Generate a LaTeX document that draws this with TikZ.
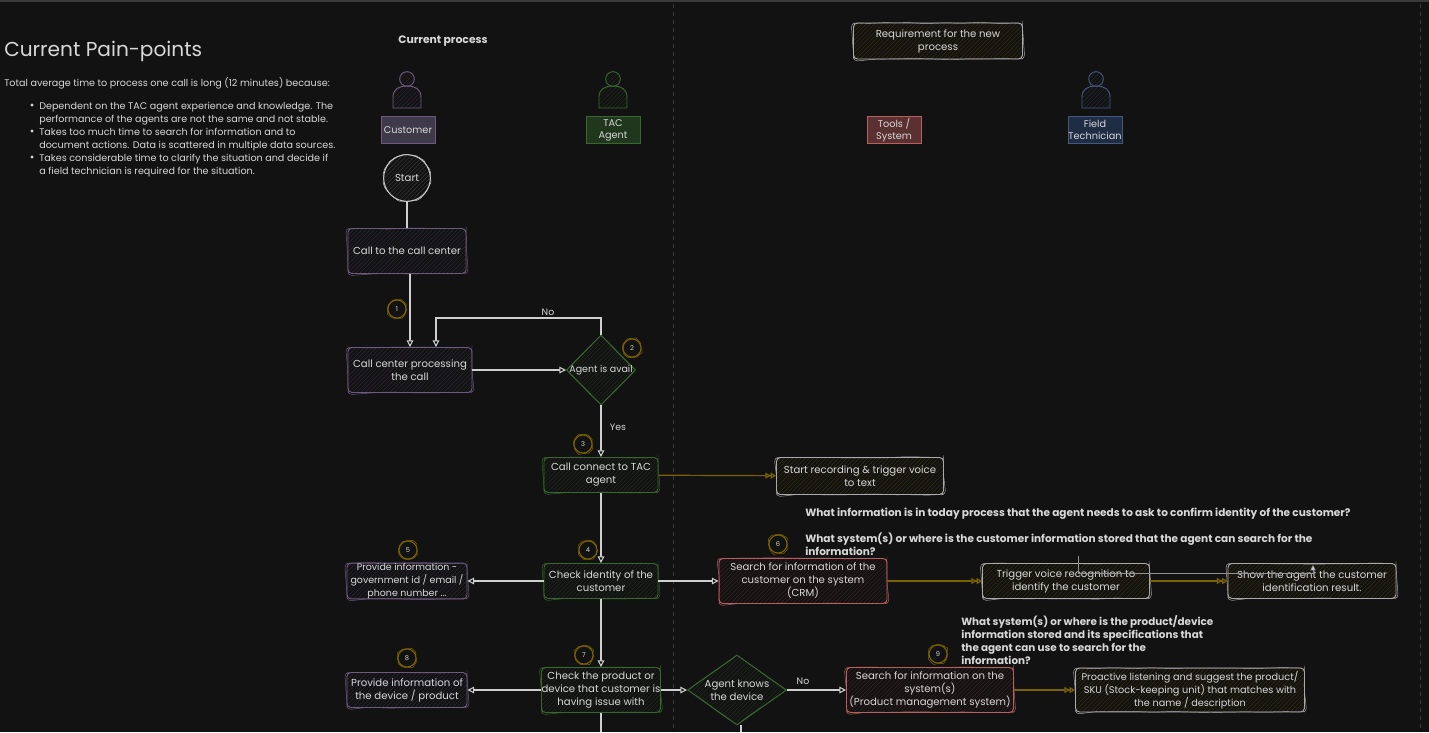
\documentclass[tikz,border=0pt]{standalone}
\usepackage{fontspec}
\setmainfont{Poppins}
\usetikzlibrary{arrows.meta,patterns.meta,decorations.pathmorphing,shapes.geometric}
\definecolor{canvas}{HTML}{121212}
\definecolor{ink}{HTML}{D8D8D8}
\definecolor{wire}{HTML}{CFCFCF}
\definecolor{custline}{HTML}{6E5A80}
\definecolor{custhatch}{HTML}{2E2936}
\definecolor{custhead}{HTML}{3F3A4A}
\definecolor{agentline}{HTML}{3A6630}
\definecolor{agenthatch}{HTML}{1F2E1C}
\definecolor{agenthead}{HTML}{20361D}
\definecolor{toolline}{HTML}{B8605F}
\definecolor{toolhatch}{HTML}{3C2222}
\definecolor{toolhead}{HTML}{5A3030}
\definecolor{techline}{HTML}{46587E}
\definecolor{techhatch}{HTML}{232A38}
\definecolor{techhead}{HTML}{1F2D44}
\definecolor{newhatch}{HTML}{35300A}
\definecolor{newline}{HTML}{ABABAB}
\definecolor{gold}{HTML}{7A6200}
\definecolor{graydash}{HTML}{3A3A3A}
\tikzset{
  boxsize/.style 2 args={minimum width=#1*0.75pt, minimum height=#2*0.75pt},
  sketch/.style 2 args={draw=#1, line width=.7pt, text=ink, align=center, inner sep=0pt,
    font=\fontsize{7.6}{9.75}\selectfont, decoration={segment length=14pt},
    preaction={pattern={Lines[angle=45,distance=2.2pt,line width=.35pt]}, pattern color=#2},
    postaction={draw=#1, line width=.35pt, decorate, decoration={random steps,amplitude=.5pt}}},
  flowbox/.style n args={4}{sketch={#3}{#4}, rectangle, rounded corners=3pt, boxsize={#1}{#2}},
  custbox/.style 2 args={flowbox={#1}{#2}{custline}{custhatch}},
  agentbox/.style 2 args={flowbox={#1}{#2}{agentline}{agenthatch}},
  toolbox/.style 2 args={flowbox={#1}{#2}{toolline}{toolhatch}},
  newbox/.style 2 args={flowbox={#1}{#2}{newline}{newhatch}},
  decision/.style n args={3}{sketch={agentline}{agenthatch}, diamond, inner sep=-5pt, boxsize={#1}{#2}, aspect=#3},
  headbox/.style 2 args={draw=#1, fill=#2, line width=.7pt, text=ink, align=center, inner sep=0pt,
    font=\fontsize{7.3}{9}\selectfont, boxsize={54}{27}},
  badge/.style={circle, draw=gold, line width=.8pt, minimum size=13.5pt, inner sep=0pt, text=ink,
    font=\fontsize{5}{6}\selectfont, decoration={segment length=4pt},
    postaction={draw=gold, line width=.4pt, decorate, decoration={random steps,amplitude=.6pt}}},
  flow/.style={draw=wire, line width=.8pt, -{Triangle[open,length=5pt,width=5pt,fill=canvas]}},
  plainflow/.style={draw=wire, line width=.8pt},
  newflow/.style={draw=gold, line width=.9pt,
    -{Triangle[open,length=4pt,width=4.5pt,fill=canvas] Triangle[open,length=4pt,width=4.5pt,fill=canvas]}},
  lbl/.style={text=ink, font=\fontsize{7}{9}\selectfont, inner sep=0pt},
  note/.style={text=ink, font=\bfseries\fontsize{7.9}{9.75}\selectfont, align=left, anchor=west, inner sep=0pt},
  painline/.style={text=ink, font=\fontsize{7.2}{9.75}\selectfont, align=left, anchor=north west, inner sep=0pt},
  tightfont/.style={font=\fontsize{7.1}{9.75}\selectfont},
}
\begin{document}
\begin{tikzpicture}[x=0.75pt, y=-0.75pt]
% Canvas
\fill[canvas] (0,0) rectangle (1429,732);
\fill[graydash] (0,0) rectangle (1429,2);
\foreach \x in {673,1420} {
  \draw[graydash, dashed, line width=.7pt] (\x,4) -- (\x,732);
}

% Pain points
\node[text=ink, font=\fontsize{15.1}{18}\selectfont, anchor=west, inner sep=0pt] (title) at (4,51) {Current Pain-points};
\node[painline, anchor=west] (intro) at (4,83.5) {Total average time to process one call is long (12 minutes) because:};
\node[painline] (pain-1) at (39,101.7) {Dependent on the TAC agent experience and knowledge. The\\performance of the agents are not the same and not stable.};
\node[painline] (pain-2) at (39,127.7) {Takes too much time to search for information and to\\document actions. Data is scattered in multiple data sources.};
\node[painline] (pain-3) at (39,153.7) {Takes considerable time to clarify the situation and decide if\\a field technician is required for the situation.};
\foreach \i/\y in {1/105,2/131,3/157} {
  \fill[ink] (32,\y) circle (1.3pt);
}

% Headers
\node[lbl, font=\bfseries\fontsize{8.1}{9}\selectfont] (current) at (443,41.5) {Current process};
\node[newbox={169}{36}] (req) at (938,41) {Requirement for the new\\process};
\node[headbox={custline}{custhead}] (hCust) at (408,130) {Customer};
\node[headbox={agentline}{agenthead}] (hAgent) at (613,130) {TAC\\Agent};
\node[headbox={toolline}{toolhead}] (hTool) at (894,130) {Tools /\\System};
\node[headbox={techline}{techhead}] (hTech) at (1095,130) {Field\\Technician};

% Persons
\foreach \x/\c/\h in {407/custline/custhatch,613/agentline/agenthatch,1096/techline/techhatch} {
  \draw[\c, line width=.7pt, preaction={pattern={Lines[angle=45,distance=2.2pt,line width=.35pt]}, pattern color=\h}]
    (\x,79) circle (5.5pt);
  \draw[\c, line width=.7pt, preaction={pattern={Lines[angle=45,distance=2.2pt,line width=.35pt]}, pattern color=\h}]
    (\x-14,108) -- (\x-14,97) .. controls (\x-14,89) and (\x-8,86) .. (\x,86)
    .. controls (\x+8,86) and (\x+14,89) .. (\x+14,97) -- (\x+14,108) -- cycle;
}

% Customer lane
\node[sketch={wire}{graydash}, circle, minimum size=35pt, decoration={segment length=3.5pt}] (start) at (407,178) {Start};
\node[custbox={118}{45}] (call) at (407,251) {Call to the call center};
\node[custbox={124}{45}] (proc) at (410,370) {Call center processing\\the call};
\node[custbox={120}{35}, tightfont] (info) at (407,581) {Provide information -\\government id / email /\\phone number ...};
\node[custbox={120}{35}] (device) at (407,690) {Provide information of\\the device / product};

% Agent lane
\node[decision={69}{70}{1}, tightfont] (avail) at (601,370) {Agent is avail};
\node[agentbox={114}{35}] (connect) at (601,475) {Call connect to TAC\\agent};
\node[agentbox={114}{35}] (identity) at (601,581) {Check identity of the\\customer};
\node[agentbox={118}{45}] (product) at (601,690) {Check the product or\\device that customer is\\having issue with};
\node[decision={99}{70}{1.414}] (knows) at (737,690) {Agent knows\\the device};

% Tools and requirements
\node[newbox={167}{37}] (record) at (860,476) {Start recording \& trigger voice\\to text};
\node[toolbox={168}{45}] (crm) at (803,581) {Search for information of the\\customer on the system\\(CRM)};
\node[newbox={167}{35}] (voice) at (1066,581) {Trigger voice recognition to\\identify the customer};
\node[newbox={168}{35}] (show) at (1312,581) {Show the agent the customer\\identification result.};
\node[toolbox={167}{45}] (search) at (930,690) {Search for information on the\\system(s)\\(Product management system)};
\node[newbox={229}{44}, font=\fontsize{7.3}{9.75}\selectfont] (suggest) at (1190,690) {Proactive listening and suggest the product/\\SKU (Stock-keeping unit) that matches with\\the name / description};

% Questions
\node[note] (q-1) at (805,513.5) {What information is in today process that the agent needs to ask to confirm identity of the customer?};
\node[note, anchor=north west] (q-2) at (805,532.5) {What system(s) or where is the customer information stored that the agent can search for the\\information?};
\node[note, anchor=north west, font=\bfseries\fontsize{7.8}{9.75}\selectfont] (q-3) at (961,615) {What system(s) or where is the product/device\\information stored and its specifications that\\the agent can use to search for the\\information?};

% Badges
\foreach \n/\x/\y in {1/397/309,2/632/348,3/583/444,4/588/550,5/408/550,6/778/544,7/584/655,8/407/658,9/938/654} {
  \node[badge] (b-\n) at (\x,\y) {\n};
}

% Connections
\coordinate (noturn) at (436,318);
\coordinate (endA) at (601,732);
\coordinate (endB) at (741,732);
\draw[plainflow] (start) -- (call);
\draw[flow] (call.south -| proc.north) -- (proc.north);
\draw[flow] (proc) -- (avail);
\draw[flow] (avail.north) |- (noturn) -- (noturn |- proc.north);
\draw[flow] (avail) -- (connect);
\draw[flow] (connect) -- (identity);
\draw[flow] (identity) -- (info);
\draw[flow] (identity) -- (crm);
\draw[flow] (identity) -- (product);
\draw[flow] (product) -- (device);
\draw[flow] (product) -- (knows);
\draw[flow] (knows) -- (search);
\draw[plainflow] (product) -- (endA);
\draw[plainflow] (knows.south -| endB) -- (endB);
\draw[newflow] (connect) -- (record);
\draw[newflow] (crm) -- (voice);
\draw[newflow] (voice) -- (show);
\draw[newflow] (search) -- (suggest);

% Stray connector
\coordinate (strayA) at (1078,556);
\coordinate (strayB) at (1313,573);
\coordinate (strayC) at (1313,565);
\draw[wire!70!black, line width=.5pt, -{Triangle[length=4pt,width=4pt,fill=wire]}] (strayA) |- (strayB) -- (strayC);

% Edge labels
\node[lbl] (no-1) at (548,312) {No};
\node[lbl] (yes-1) at (618,427) {Yes};
\node[lbl] (no-2) at (803,681) {No};
\end{tikzpicture}
\end{document}
